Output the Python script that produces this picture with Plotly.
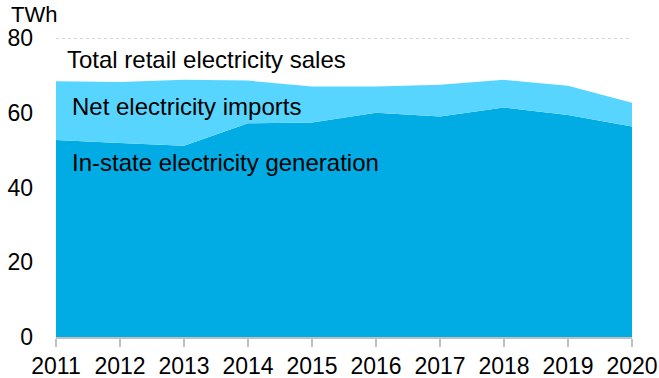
import plotly.graph_objects as go

years = [2011, 2012, 2013, 2014, 2015, 2016, 2017, 2018, 2019, 2020]
generation = [52.7, 51.9, 51.2, 57.2, 57.4, 60.0, 59.0, 61.4, 59.4, 56.3]
total_sales = [68.4, 68.2, 68.8, 68.6, 67.0, 67.0, 67.5, 68.8, 67.2, 62.7]
imports = [round(t - g, 2) for t, g in zip(total_sales, generation)]

y_ticks = [0, 20, 40, 60, 80]

dark = "rgb(0,172,227)"
light = "rgb(87,213,255)"
font = "Liberation Sans, Arial, sans-serif"

fig = go.Figure()
fig.add_trace(go.Scatter(x=years, y=generation, stackgroup="one", mode="none",
                         fillcolor=dark, name="In-state electricity generation"))
fig.add_trace(go.Scatter(x=years, y=imports, stackgroup="one", mode="none",
                         fillcolor=light, name="Net electricity imports"))

fig.add_shape(type="line", xref="x", yref="y", x0=years[0], x1=years[-1],
              y0=y_ticks[-1], y1=y_ticks[-1], layer="below",
              line=dict(color="#b0b0b0", width=1, dash="dot"))

fig.update_layout(
    width=659, height=378,
    margin=dict(l=56, r=27, t=38, b=41),
    paper_bgcolor="white", plot_bgcolor="white",
    showlegend=False,
    font=dict(family=font, size=23, color="black"),
    xaxis=dict(range=[2011, 2020], tickmode="array", tickvals=years,
               ticktext=[str(y) for y in years], automargin=False,
               showgrid=False, zeroline=False,
               showline=True, linecolor="#c0c0c0", linewidth=1.5,
               ticks="outside", ticklen=8, tickcolor="#c0c0c0", tickwidth=1.5,
               tickfont=dict(size=23, family=font, color="black")),
    yaxis=dict(range=[0, 80], tickvals=y_ticks, showline=False, zeroline=False,
               showgrid=False, automargin=False,
               ticks="", ticklabelstandoff=22,
               tickfont=dict(size=23, family=font, color="black")),
    annotations=[
        dict(text="TWh", xref="paper", yref="paper", x=-44/576, y=1 + 10/299,
             xanchor="left", yanchor="bottom", showarrow=False, xshift=-2,
             borderpad=0, font=dict(size=22, family=font)),
        dict(text="Total retail electricity sales", x=2011.17, y=74.2,
             xanchor="left", yanchor="middle", showarrow=False, xshift=-2,
             font=dict(size=24, family=font)),
        dict(text="Net electricity imports", x=2011.26, y=61.8,
             xanchor="left", yanchor="middle", showarrow=False, xshift=-3,
             font=dict(size=24, family=font)),
        dict(text="In-state electricity generation", x=2011.26, y=46.8,
             xanchor="left", yanchor="middle", showarrow=False, xshift=-3,
             font=dict(size=24, family=font)),
    ],
)

fig.write_html("out.html")
